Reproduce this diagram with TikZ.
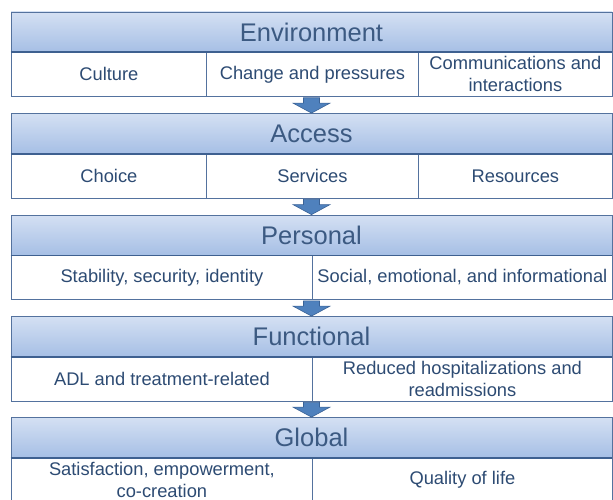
\documentclass[tikz,border=0pt]{standalone}
\usepackage{fontspec}
\setmainfont{Liberation Sans}
\usetikzlibrary{calc}
\definecolor{hdrtop}{RGB}{212,224,243}
\definecolor{hdrbot}{RGB}{166,191,229}
\definecolor{edge}{RGB}{84,114,158}
\definecolor{edgedark}{RGB}{62,96,144}
\definecolor{hdrtxt}{RGB}{60,90,130}
\definecolor{celltxt}{RGB}{45,75,115}
\definecolor{arrowfill}{RGB}{79,129,189}
\definecolor{arrowedge}{RGB}{58,98,150}
\tikzset{
  header/.style={draw=edge, line width=0.8pt, top color=hdrtop, bottom color=hdrbot,
    minimum width=601pt, minimum height=40pt, inner sep=0pt,
    font=\fontsize{25.5}{29}\selectfont, text=hdrtxt},
  cell/.style={draw=edge, line width=0.8pt, fill=white, minimum height=44pt,
    inner sep=0pt, anchor=north west, font=\fontsize{18.3}{22}\selectfont,
    text=celltxt, align=center},
  flow/.style={fill=arrowfill, draw=arrowedge, line width=0.6pt},
  hdrbase/.style={draw=edgedark, line width=1.8pt},
}
\newcommand{\flowarrow}[2]{%
  \filldraw[flow] ($(#1.south -| #2.north)+(-8,1)$) -- ($(#1.south -| #2.north)+(8,1)$)
    -- ($(#2.north)+(8,-10)$) -- ($(#2.north)+(18.5,-10)$) -- (#2.north)
    -- ($(#2.north)+(-18.5,-10)$) -- ($(#2.north)+(-8,-10)$) -- cycle;}
\begin{document}
\begin{tikzpicture}[x=1pt,y=-1pt]
\useasboundingbox (0,0) rectangle (613,500);
% Environment
\node[header] (env) at (311.5,32) {Environment};
\node[cell, minimum width=195pt] (env1) at (11,52) {Culture};
\node[cell, minimum width=212pt] (env2) at (206,52) {Change and pressures};
\node[cell, minimum width=194pt] (env3) at (418,52) {Communications and\\interactions};
\draw[hdrbase] (env.south west) -- (env.south east);
% Access
\node[header] (acc) at (311.5,133.5) {Access};
\node[cell, minimum width=195pt] (acc1) at (11,153.5) {Choice};
\node[cell, minimum width=212pt] (acc2) at (206,153.5) {Services};
\node[cell, minimum width=194pt] (acc3) at (418,153.5) {Resources};
\draw[hdrbase] (acc.south west) -- (acc.south east);
% Personal
\node[header] (per) at (311.5,235) {Personal};
\node[cell, minimum width=301pt] (per1) at (11,255) {Stability, security, identity};
\node[cell, minimum width=300pt] (per2) at (312,255) {Social, emotional, and informational};
\draw[hdrbase] (per.south west) -- (per.south east);
% Functional
\node[header] (fun) at (311.5,336.5) {Functional};
\node[cell, minimum width=301pt] (fun1) at (11,356.5) {ADL and treatment-related};
\node[cell, minimum width=300pt] (fun2) at (312,356.5) {Reduced hospitalizations and\\readmissions};
\draw[hdrbase] (fun.south west) -- (fun.south east);
% Global
\node[header] (glo) at (311.5,437.5) {Global};
\node[cell, minimum width=301pt] (glo1) at (11,457.5) {Satisfaction, empowerment,\\co-creation};
\node[cell, minimum width=300pt] (glo2) at (312,457.5) {Quality of life};
\draw[hdrbase] (glo.south west) -- (glo.south east);
% arrows
\flowarrow{env2}{acc}
\flowarrow{acc2}{per}
\flowarrow{per1}{fun}
\flowarrow{fun1}{glo}
\end{tikzpicture}
\end{document}
